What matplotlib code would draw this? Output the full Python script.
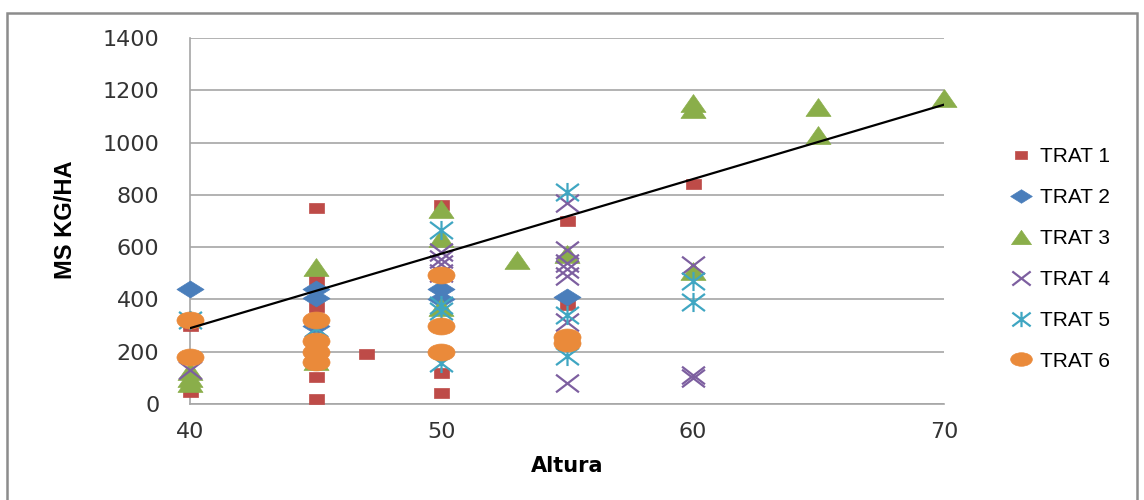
import numpy as np
import matplotlib
matplotlib.use('Agg')
import matplotlib.pyplot as plt
from matplotlib.path import Path
from matplotlib.patches import Rectangle

# values (Altura vs MS KG/HA)
trat1_x = [40, 40, 45, 45, 45, 45, 45, 47, 50, 50, 50, 55, 55, 60]
trat1_y = [45, 300, 750, 470, 370, 105, 18, 190, 760, 120, 42, 700, 380, 840]

trat2_x = [40, 45, 45, 45, 50, 50, 55]
trat2_y = [440, 440, 405, 300, 440, 400, 410]

trat3_x = [40, 40, 40, 45, 45, 50, 50, 50, 53, 55, 60, 60, 60, 65, 65, 70]
trat3_y = [80, 100, 125, 525, 165, 745, 635, 370, 550, 575, 1150, 1130, 510, 1135, 1030, 1170]

trat4_x = [40, 45, 50, 50, 50, 50, 55, 55, 55, 55, 55, 55, 55, 60, 60, 60]
trat4_y = [130, 290, 580, 555, 535, 500, 770, 590, 540, 515, 490, 315, 80, 530, 110, 100]

trat5_x = [40, 45, 50, 50, 50, 50, 55, 55, 55, 60, 60]
trat5_y = [320, 290, 665, 380, 355, 155, 810, 340, 185, 470, 390]

trat6_x = [40, 40, 45, 45, 45, 45, 50, 50, 50, 55, 55]
trat6_y = [320, 180, 320, 240, 200, 160, 495, 300, 200, 255, 235]

labels = ['TRAT 1', 'TRAT 2', 'TRAT 3', 'TRAT 4', 'TRAT 5', 'TRAT 6']
colors = ['#BE4B48', '#4A7EBB', '#8AAE4A', '#7D5FA0', '#3FA6C2', '#EA8A3A']

# linear trend
trend_slope = 28.5
trend_intercept = -850.0
trend_range = [40, 70]

# markers are drawn wider than tall, as in the picture
def poly(verts):
    verts = list(verts) + [verts[0]]
    codes = [Path.MOVETO] + [Path.LINETO] * (len(verts) - 2) + [Path.CLOSEPOLY]
    return Path(verts, codes)

def segments(segs):
    verts, codes = [], []
    for a, b in segs:
        verts += [a, b]
        codes += [Path.MOVETO, Path.LINETO]
    return Path(verts, codes)

sq = poly([(-0.75, -0.5), (0.75, -0.5), (0.75, 0.5), (-0.75, 0.5)])
dia = poly([(0, -0.5), (0.8, 0), (0, 0.5), (-0.8, 0)])
tri = poly([(-0.7, -0.5), (0.7, -0.5), (0, 0.5)])
xm = segments([((-0.65, -0.5), (0.65, 0.5)), ((-0.65, 0.5), (0.65, -0.5))])
ast = segments([((-0.6, -0.45), (0.6, 0.45)), ((-0.6, 0.45), (0.6, -0.45)), ((0, -0.5), (0, 0.5))])
circ = Path.unit_circle()
circ = Path(circ.vertices * np.array([0.8, 0.5]), circ.codes)

markers = [sq, dia, tri, xm, ast, circ]
sizes = [10.8, 19.5, 18, 16.5, 16.5, 19.5]
filled = [True, True, True, False, False, True]

xs = [trat1_x, trat2_x, trat3_x, trat4_x, trat5_x, trat6_x]
ys = [trat1_y, trat2_y, trat3_y, trat4_y, trat5_y, trat6_y]

fig = plt.figure(figsize=(11.44, 5), dpi=100)
ax = fig.add_axes([190 / 1144, 1 - 404 / 500, (944 - 190) / 1144, (404 - 38) / 500])

handles = []
for i in range(6):
    h, = ax.plot(xs[i], ys[i], linestyle='none', marker=markers[i], ms=sizes[i],
                 mfc=colors[i] if filled[i] else 'none', mec=colors[i],
                 mew=0.5 if filled[i] else 1.6, label=labels[i], clip_on=False, zorder=3)
    handles.append(h)

tx = np.array(trend_range)
ax.plot(tx, trend_slope * tx + trend_intercept, color='black', lw=1.6, zorder=5)

ax.set_xlim(40, 70)
ax.set_ylim(0, 1400)
ax.set_xticks([40, 50, 60, 70])
ax.set_yticks(range(0, 1401, 200))
ax.grid(axis='y', color='#A6A6A6', lw=1.2)
ax.set_axisbelow(True)
for s in ['top', 'right']:
    ax.spines[s].set_visible(False)
for s in ['left', 'bottom']:
    ax.spines[s].set_color('#A6A6A6')
    ax.spines[s].set_linewidth(1.2)
ax.tick_params(axis='y', length=0, pad=22, labelsize=16, labelcolor='#333333')
ax.tick_params(axis='x', length=0, pad=13, labelsize=16, labelcolor='#333333')

fig.text(66 / 1144, 1 - 220 / 500, 'MS KG/HA', rotation=90, ha='center', va='center',
         fontsize=17, fontweight='bold', family='Liberation Sans')
fig.text(567 / 1144, 1 - 466 / 500, 'Altura', ha='center', va='center',
         fontsize=15, fontweight='bold')

leg = fig.legend(handles=handles, loc='center left', bbox_to_anchor=(990 / 1144, 1 - 259 / 500),
                 frameon=False, markerscale=0.8, handlelength=1.2,
                 handletextpad=0.3, labelspacing=1.05, prop={'family': 'Liberation Sans', 'size': 15})

fig.patches.append(Rectangle((7 / 1144, -0.02), 1130 / 1144, (500 - 13) / 500 + 0.02,
                             transform=fig.transFigure, fill=False, ec='#8C8C8C', lw=1.8))

plt.savefig('out.png', dpi=100)
